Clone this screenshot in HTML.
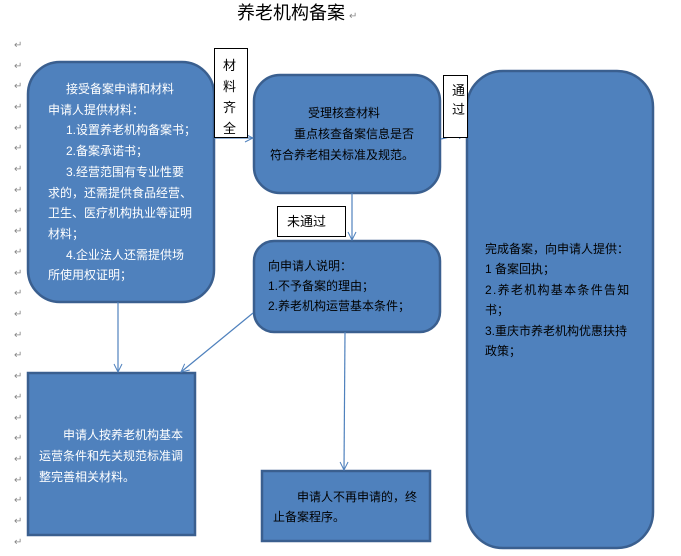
<!DOCTYPE html>
<html><head><meta charset="utf-8"><style>
html,body{margin:0;padding:0;background:#fff;}
svg{display:block;}
text{font-family:"Liberation Sans","Noto Sans CJK SC",sans-serif;}
.w{fill:#fff;font-size:12px;}
.b{fill:#000;font-size:12px;}
.m{fill:#888;font-size:10px;}
</style></head><body>
<svg width="681" height="556" viewBox="0 0 681 556" xmlns="http://www.w3.org/2000/svg">
<defs><marker id="a" markerWidth="10" markerHeight="10" refX="9" refY="5" orient="auto" markerUnits="userSpaceOnUse"><path d="M1,1 L9,5 L1,9" fill="none" stroke="#4f81bd" stroke-width="1"/></marker></defs>
<text x="237" y="19" style="font-size:18px" fill="#000">养老机构备案</text><text x="349" y="19" class="m">↵</text>
<g class="m">
<text x="14" y="48">↵</text><text x="14" y="69">↵</text><text x="14" y="89">↵</text><text x="14" y="110">↵</text><text x="14" y="131">↵</text><text x="14" y="151">↵</text><text x="14" y="172">↵</text><text x="14" y="193">↵</text><text x="14" y="214">↵</text><text x="14" y="234">↵</text><text x="14" y="255">↵</text><text x="14" y="276">↵</text><text x="14" y="296">↵</text><text x="14" y="317">↵</text><text x="14" y="338">↵</text><text x="14" y="358">↵</text><text x="14" y="379">↵</text><text x="14" y="400">↵</text><text x="14" y="421">↵</text><text x="14" y="441">↵</text><text x="14" y="462">↵</text><text x="14" y="483">↵</text><text x="14" y="503">↵</text><text x="14" y="524">↵</text><text x="14" y="545">↵</text>
</g>
<g fill="#4f81bd" stroke="#3a5f8f" stroke-width="2.5">
<rect x="28" y="62" width="186" height="240" rx="32"/>
<rect x="254" y="75" width="186" height="118" rx="26"/>
<rect x="254" y="241" width="186" height="91" rx="20"/>
<rect x="467" y="71" width="186" height="477" rx="36"/>
<rect x="28" y="373" width="167" height="162"/>
<rect x="262" y="471" width="168" height="70"/>
</g>
<g stroke="#4f81bd" stroke-width="1.2" fill="none">
<line x1="214" y1="138" x2="253" y2="138" marker-end="url(#a)"/>
<line x1="441" y1="139" x2="466" y2="133" marker-end="url(#a)"/>
<line x1="352" y1="193" x2="352" y2="240" marker-end="url(#a)"/>
<line x1="118" y1="302" x2="118" y2="372" marker-end="url(#a)"/>
<line x1="253" y1="313" x2="181" y2="372" marker-end="url(#a)"/>
<line x1="345" y1="332" x2="344" y2="470" marker-end="url(#a)"/>
</g>
<rect x="214.5" y="48.5" width="33" height="89" fill="#fff" stroke="#000"/>
<g class="b" style="font-size:13px"><text x="223" y="70">材</text><text x="223" y="91">料</text><text x="223" y="112">齐</text><text x="223" y="133">全</text></g>
<rect x="443.5" y="75.5" width="24" height="62" fill="#fff" stroke="#000"/>
<g class="b" style="font-size:13px"><text x="452" y="95">通</text><text x="452" y="114">过</text></g>
<rect x="277.5" y="206.5" width="68" height="30" fill="#fff" stroke="#000"/>
<text x="287" y="226" class="b" style="font-size:13px">未通过</text>
<g class="w">
<text x="66" y="93">接受备案申请和材料</text>
<text x="48" y="114">申请人提供材料：</text>
<text x="66" y="134">1.设置养老机构备案书；</text>
<text x="66" y="155">2.备案承诺书；</text>
<text x="66" y="176">3.经营范围有专业性要</text>
<text x="48" y="197">求的，还需提供食品经营、</text>
<text x="48" y="217">卫生、医疗机构执业等证明</text>
<text x="48" y="238">材料；</text>
<text x="66" y="259">4.企业法人还需提供场</text>
<text x="48" y="279">所使用权证明；</text>
<text x="63" y="439">申请人按养老机构基本</text>
<text x="39" y="460">运营条件和先关规范标准调</text>
<text x="39" y="481">整完善相关材料。</text>
</g>
<g class="b">
<text x="308" y="117">受理核查材料</text>
<text x="294" y="138">重点核查备案信息是否</text>
<text x="270" y="159">符合养老相关标准及规范。</text>
<text x="268" y="270">向申请人说明：</text>
<text x="268" y="290">1.不予备案的理由；</text>
<text x="268" y="310">2.养老机构运营基本条件；</text>
<text x="297" y="501">申请人不再申请的，终</text>
<text x="273" y="521">止备案程序。</text>
<text x="485" y="253">完成备案，向申请人提供：</text>
<text x="485" y="273">1 备案回执；</text>
<text x="485" y="294" style="letter-spacing:1.3px">2.养老机构基本条件告知</text>
<text x="485" y="314">书；</text>
<text x="485" y="335">3.重庆市养老机构优惠扶持</text>
<text x="485" y="355">政策；</text>
</g>
</svg>
</body></html>
